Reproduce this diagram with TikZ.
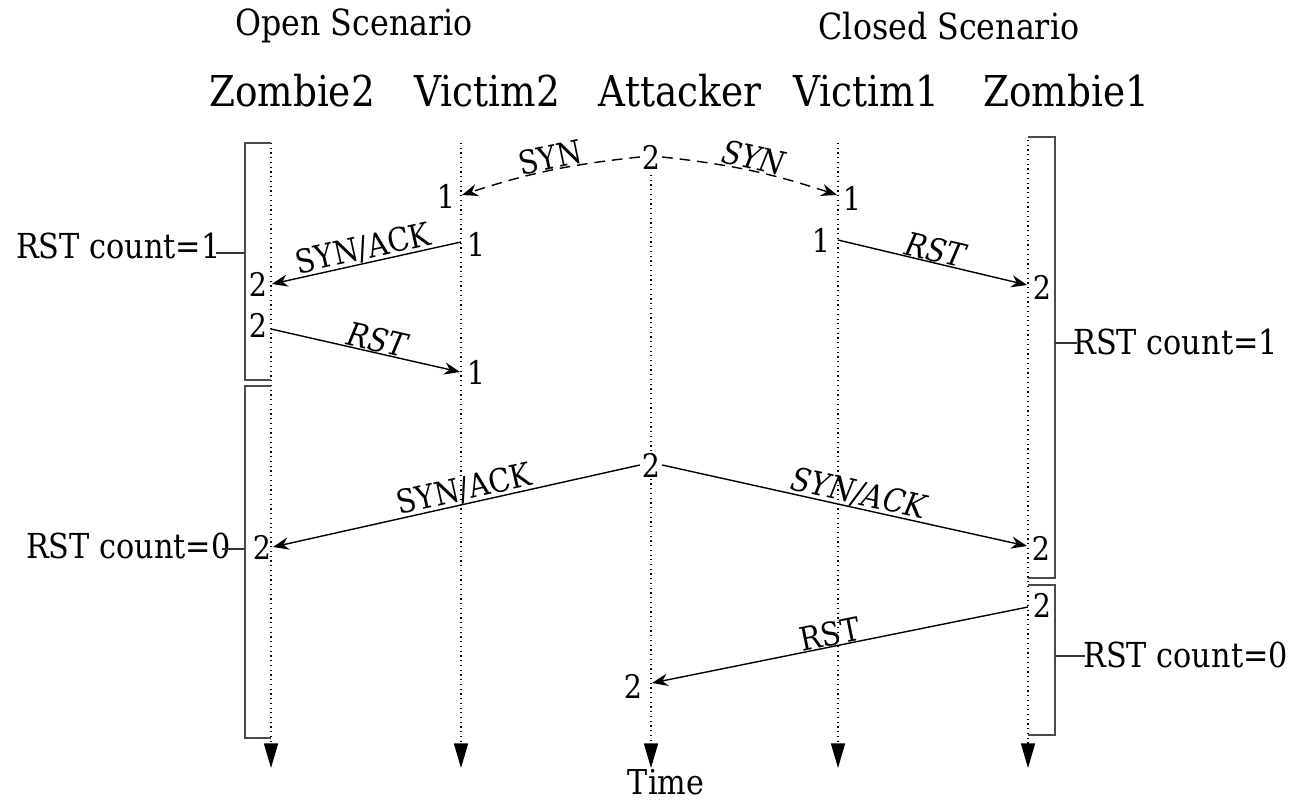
\documentclass[tikz,border=0pt]{standalone}
\usepackage{fontspec}
\setmainfont{DejaVu Serif}[FakeStretch=0.88]
\usetikzlibrary{arrows.meta}
\begin{document}
\begin{tikzpicture}[x=0.02cm,y=-0.02cm,
  hdr/.style={font=\fontsize{24.2}{26}\selectfont, anchor=base, inner sep=0pt},
  scen/.style={font=\fontsize{20.5}{22}\selectfont, anchor=base, inner sep=0pt},
  cnt/.style={font=\fontsize{19.6}{21}\selectfont, inner sep=0pt},
  num/.style={font=\fontsize{18.5}{20}\selectfont, inner sep=1pt, fill=white},
  lbl/.style={font=\fontsize{18.5}{20}\selectfont, inner sep=1pt, sloped},
  lifeline/.style={dotted, line width=0.7pt, -{Triangle[length=14pt,width=8pt]}},
  msg/.style={line width=0.8pt, -{Stealth[length=9pt,width=7pt,inset=3pt]}},
  dmsg/.style={msg, dash pattern=on 6pt off 4pt},
  brk/.style={line width=1.1pt, black!70},
  tick/.style={line width=0.8pt, black!80}]
\useasboundingbox (0,0) rectangle (1293,800);

% scenario titles and headers
\node[scen] (open) at (354,36) {Open Scenario};
\node[scen] (closed) at (949,40) {Closed Scenario};
\node[hdr] (hz2) at (292,107) {Zombie2};
\node[hdr] (hv2) at (487,107) {Victim2};
\node[hdr] (ha) at (680,107) {Attacker};
\node[hdr] (hv1) at (866,107) {Victim1};
\node[hdr] (hz1) at (1066,107) {Zombie1};

% lifelines
\coordinate (z2t) at (271,143); \coordinate (z2b) at (271,768);
\coordinate (v2t) at (461,143); \coordinate (v2b) at (461,768);
\coordinate (at) at (651,175);  \coordinate (ab) at (651,768);
\coordinate (v1t) at (838,143); \coordinate (v1b) at (838,768);
\coordinate (z1t) at (1028,140); \coordinate (z1b) at (1028,768);
\draw[lifeline] (z2t) -- (z2b);
\draw[lifeline] (v2t) -- (v2b);
\draw[lifeline] (at) -- (ab);
\draw[lifeline] (v1t) -- (v1b);
\draw[lifeline] (z1t) -- (z1b);
\node[font=\fontsize{19.5}{21}\selectfont] (time) at (666,782) {Time};

% brackets
\draw[brk] (271,143) -- (245,143) coordinate (lb1t) -- (245,380) coordinate (lb1b) -- (271,380);
\draw[brk] (271,386) -- (245,386) coordinate (lb2t) -- (245,738) coordinate (lb2b) -- (271,738);
\draw[brk] (1028,137) -- (1055,137) coordinate (rb1t) -- (1055,578) coordinate (rb1b) -- (1028,578);
\draw[brk] (1028,585) -- (1055,585) coordinate (rb2t) -- (1055,735) coordinate (rb2b) -- (1028,735);

% counts
\node[cnt, anchor=base east] (c1) at (221,258) {RST count=1};
\coordinate (c1a) at (245,253);
\draw[tick] (c1a) -- (216,253);
\node[cnt, anchor=base east] (c2) at (231,558) {RST count=0};
\coordinate (c2a) at (245,549);
\draw[tick] (c2a) -- (222,549);
\node[cnt, anchor=base west] (c3) at (1073,354) {RST count=1};
\coordinate (c3a) at (1055,343);
\draw[tick] (c3a) -- (1077,343);
\node[cnt, anchor=base west] (c4) at (1083,667) {RST count=0};
\coordinate (c4a) at (1055,656);
\draw[tick] (c4a) -- (1085,656);

% SYN from attacker
\node[num] (a1) at (651,157) {2};
\coordinate (v2s) at (462,195);
\node[num, fill=none] (v2n1) at (446,196) {1};
\draw[dmsg] (a1.west) to[bend right=6] node[lbl, above, pos=0.48, inner sep=0pt] {SYN} (v2s);
\coordinate (v1s) at (837,195);
\node[num, fill=none] (v1n1) at (852,198) {1};
\draw[dmsg] (a1.east) to[bend left=6] node[lbl, above, pos=0.5, inner sep=0pt] {\itshape SYN} (v1s);

% SYN/ACK Victim2 -> Zombie2
\coordinate (v2a) at (461,242);
\node[num, fill=none] (v2n2) at (476,244) {1};
\coordinate (z2a) at (272,284);
\node[num, fill=none] (z2n1) at (258,284) {2};
\draw[msg] (v2a) -- node[lbl, above, pos=0.5, inner sep=0pt] {SYN/ACK} (z2a);

% RST Victim1 -> Zombie1
\coordinate (v1a) at (838,240);
\node[num, fill=none] (v1n2) at (821,240) {1};
\coordinate (z1a) at (1027,285);
\node[num, fill=none] (z1n1) at (1042,287) {2};
\draw[msg] (v1a) -- node[lbl, above, pos=0.5, inner sep=0pt] {\itshape RST} (z1a);

% RST Zombie2 -> Victim2
\coordinate (z2r) at (271,329);
\node[num, fill=none] (z2n2) at (258,325) {2};
\coordinate (v2r) at (460,372);
\node[num, fill=none] (v2n3) at (476,372) {1};
\draw[msg] (z2r) -- node[lbl, above, pos=0.55, inner sep=0pt] {\itshape RST} (v2r);

% SYN/ACK attacker -> both zombies
\node[num] (a2) at (651,465) {2};
\coordinate (z2s) at (273,547);
\node[num, fill=none] (z2n3) at (262,547) {2};
\draw[msg] (a2.west) -- node[lbl, above, pos=0.47, inner sep=0pt] {SYN/ACK} (z2s);
\coordinate (z1s) at (1027,546);
\node[num, fill=none] (z1n2) at (1041,548) {2};
\draw[msg] (a2.east) -- node[lbl, above, pos=0.53, inner sep=0pt] {\itshape SYN/ACK} (z1s);

% RST Zombie1 -> attacker
\coordinate (z1r) at (1028,607);
\node[num, fill=none] (z1n3) at (1042,605) {2};
\coordinate (ar) at (652,683);
\node[num, fill=none] (an3) at (633,686) {2};
\draw[msg] (z1r) -- node[lbl, above, pos=0.52, inner sep=0pt] {RST} (ar);
\end{tikzpicture}
\end{document}
